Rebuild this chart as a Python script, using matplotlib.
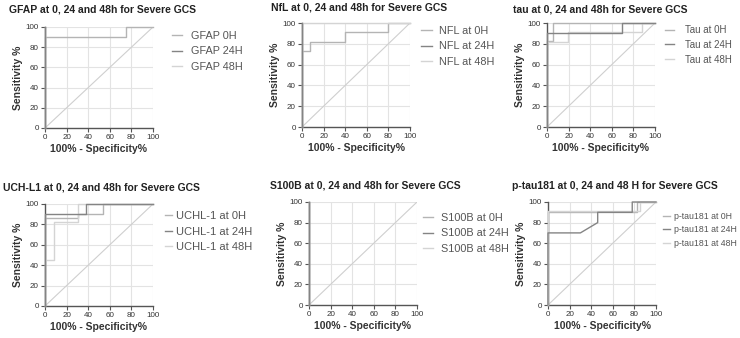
import matplotlib
matplotlib.use("Agg")
import matplotlib.pyplot as plt

plt.rcParams['font.family'] = ['Liberation Sans', 'DejaVu Sans']

ticks = [0, 20, 40, 60, 80, 100]
xlabel = "100% - Specificity%"
ylabel = "Sensitivity %"

titles = [
    "GFAP at 0, 24 and 48h for Severe GCS",
    "NfL at 0, 24 and 48h for Severe GCS",
    "tau at 0, 24 and 48h for Severe GCS",
    "UCH-L1 at 0, 24 and 48h for Severe GCS",
    "S100B at 0, 24 and 48h for Severe GCS",
    "p-tau181 at 0, 24 and 48 H for Severe GCS",
]
labels = [
    ["GFAP 0H", "GFAP 24H", "GFAP 48H"],
    ["NFL at 0H", "NFL at 24H", "NFL at 48H"],
    ["Tau at 0H", "Tau at 24H", "Tau at 48H"],
    ["UCHL-1 at 0H", "UCHL-1 at 24H", "UCHL-1 at 48H"],
    ["S100B at 0H", "S100B at 24H", "S100B at 48H"],
    ["p-tau181 at 0H", "p-tau181 at 24H", "p-tau181 at 48H"],
]

# ROC curves: (100% - specificity, sensitivity)
gfap_0h_x = [0, 0, 75, 75, 100];        gfap_0h_y = [0, 90, 90, 100, 100]
gfap_24h_x = [0, 0];                    gfap_24h_y = [0, 100]
gfap_48h_x = [0, 0];                    gfap_48h_y = [0, 100]

nfl_0h_x = [0, 0, 7, 7, 40, 40, 80, 80, 100]
nfl_0h_y = [0, 73, 73, 82, 82, 91, 91, 100, 100]
nfl_24h_x = [0, 0];                     nfl_24h_y = [0, 100]
nfl_48h_x = [0, 0, 100];                nfl_48h_y = [0, 100, 100]

tau_0h_x = [0, 0, 6, 6, 100];           tau_0h_y = [0, 83, 83, 100, 100]
tau_24h_x = [0, 0, 69, 69, 100];        tau_24h_y = [0, 90, 90, 100, 100]
tau_48h_x = [0, 0, 19, 19, 88, 88, 100]
tau_48h_y = [0, 82, 82, 91, 91, 100, 100]

uchl_0h_x = [0, 0, 31, 31, 54, 54, 100]
uchl_0h_y = [0, 86, 86, 90, 90, 100, 100]
uchl_24h_x = [0, 0, 38, 38, 100];       uchl_24h_y = [0, 90, 90, 100, 100]
uchl_48h_x = [0, 0, 8, 8, 31, 31, 100]
uchl_48h_y = [0, 45, 45, 82, 82, 100, 100]

s100b_0h_x = [0, 0];                    s100b_0h_y = [0, 100]
s100b_24h_x = [0, 0];                   s100b_24h_y = [0, 100]
s100b_48h_x = [0, 0];                   s100b_48h_y = [0, 100]

ptau_0h_x = [0, 0, 82, 82, 100];        ptau_0h_y = [0, 90, 90, 100, 100]
ptau_24h_x = [0, 0, 30, 46, 46, 78, 78, 100]
ptau_24h_y = [0, 70, 70, 80, 90, 90, 100, 100]
ptau_48h_x = [0, 0, 85, 85, 100];       ptau_48h_y = [0, 91, 91, 100, 100]

curves = [
    [(gfap_0h_x, gfap_0h_y), (gfap_24h_x, gfap_24h_y), (gfap_48h_x, gfap_48h_y)],
    [(nfl_0h_x, nfl_0h_y), (nfl_24h_x, nfl_24h_y), (nfl_48h_x, nfl_48h_y)],
    [(tau_0h_x, tau_0h_y), (tau_24h_x, tau_24h_y), (tau_48h_x, tau_48h_y)],
    [(uchl_0h_x, uchl_0h_y), (uchl_24h_x, uchl_24h_y), (uchl_48h_x, uchl_48h_y)],
    [(s100b_0h_x, s100b_0h_y), (s100b_24h_x, s100b_24h_y), (s100b_48h_x, s100b_48h_y)],
    [(ptau_0h_x, ptau_0h_y), (ptau_24h_x, ptau_24h_y), (ptau_48h_x, ptau_48h_y)],
]

colors = ["#b4b4b4", "#848484", "#d4d4d4"]

W, H = 740, 338
fig = plt.figure(figsize=(W / 100, H / 100), dpi=100)

# axes boxes in pixels (x0, y0, x1, y1)
boxes = [
    (45, 27, 153, 128),
    (302, 23, 410, 127),
    (547, 23, 655, 127),
    (45, 204, 153, 306),
    (309, 202, 417, 305),
    (548, 202, 656, 305),
]
title_pos = [(9, 10), (271, 8), (513, 9), (3, 187), (270, 186), (512, 186)]
# legend: (handle start x, handle end x, text start x, top y) in pixels
legend_geom = [
    (172, 182, 191, 31),
    (421, 432, 439, 26),
    (665, 674, 685, 25),
    (165, 172, 176, 211),
    (423, 433, 441, 213),
    (663, 670, 674, 212),
]
legend_fs = [7.8, 7.8, 7.0, 8.0, 7.8, 6.3]

for i in range(6):
    x0, y0, x1, y1 = boxes[i]
    ax = fig.add_axes([x0 / W, 1 - y1 / H, (x1 - x0) / W, (y1 - y0) / H])
    ax.set_xlim(0, 100)
    ax.set_ylim(0, 100)
    ax.set_xticks(ticks)
    ax.set_yticks(ticks)
    ax.grid(True, color="#e3e3e3", linewidth=0.8)
    ax.set_axisbelow(True)
    for s in ["top", "right"]:
        ax.spines[s].set_visible(False)
    for s in ["left", "bottom"]:
        ax.spines[s].set_color("#555555")
        ax.spines[s].set_linewidth(1.0)
    ax.tick_params(direction="out", length=3, width=0.8, colors="#555555",
                   labelsize=5.8, pad=1.5, labelcolor="#333333")
    ax.plot([0, 100], [0, 100], color="#cfcfcf", linewidth=0.8, zorder=2)
    handles = []
    for j, (cx, cy) in enumerate(curves[i]):
        h, = ax.plot(cx, cy, color=colors[j], linewidth=1.0, zorder=3 + (1 if j == 1 else 0),
                     clip_on=False)
        handles.append(h)
    ax.set_xlabel(xlabel, fontsize=7.5, fontweight="bold", color="#333333", labelpad=2)
    ax.set_ylabel(ylabel, fontsize=7.5, fontweight="bold", color="#333333", labelpad=2)
    tx, ty = title_pos[i]
    fig.text(tx / W, 1 - ty / H, titles[i], fontsize=7.5, fontweight="bold",
             color="#222222", ha="left", va="center")
    hx0, hx1, txs, ly = legend_geom[i]
    fs = legend_fs[i]
    fpx = fs * 100 / 72
    ax.legend(handles, labels[i], loc="upper left", bbox_to_anchor=(hx0 / W, 1 - ly / H),
              bbox_transform=fig.transFigure, frameon=False, fontsize=fs,
              handlelength=(hx1 - hx0) / fpx, handletextpad=(txs - hx1) / fpx,
              labelspacing=0.5, borderpad=0, borderaxespad=0, labelcolor="#555555")

fig.savefig("out.png", dpi=100)
